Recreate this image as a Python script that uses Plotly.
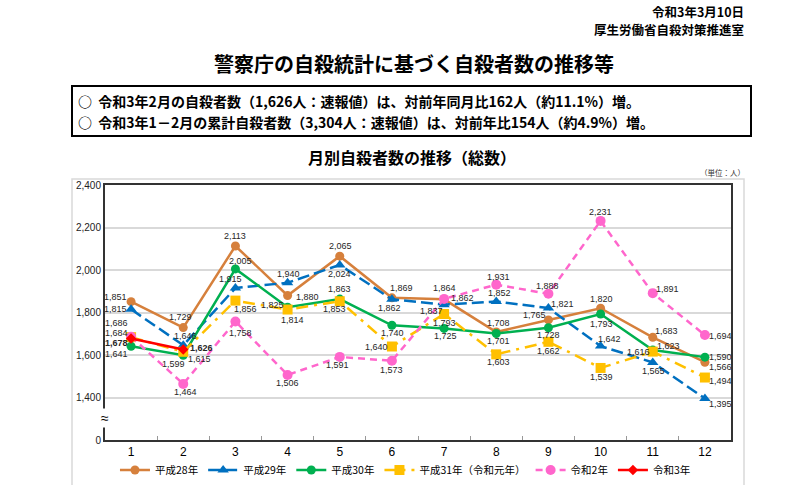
import plotly.graph_objects as go

months = list(range(1, 13))
month_labels = [str(m) for m in months]

series_names = ["平成28年", "平成29年", "平成30年", "平成31年（令和元年）", "令和2年", "令和3年"]
h28 = [1851, 1729, 2113, 1880, 2065, 1869, 1862, 1708, 1765, 1820, 1683, 1566]
h29 = [1815, 1646, 1915, 1940, 2024, 1862, 1837, 1852, 1821, 1642, 1565, 1395]
h30 = [1641, 1599, 2005, 1825, 1863, 1740, 1725, 1701, 1728, 1793, 1623, 1590]
h31 = [1684, 1615, 1856, 1814, 1853, 1640, 1793, 1603, 1662, 1539, 1616, 1494]
r2 = [1686, 1464, 1758, 1506, 1591, 1573, 1864, 1931, 1888, 2231, 1891, 1694]
r3 = [1678, 1626]

y_tick_vals = [1200, 1400, 1600, 1800, 2000, 2200, 2400]
y_tick_text = ["0", "1,400", "1,600", "1,800", "2,000", "2,200", "2,400"]

# label offsets in pixels (dx right, dy down) -- style only
off_h28 = [(-16, -5), (-3, -11), (0, -10), (20, 1), (1, -10), (10, -10),
           (18, -1), (2, -9), (-14, -5), (1, -9), (14, -6), (16, 5)]
off_h29 = [(-16, 0), (2, -9), (-5, -9), (1, -9), (0, 9), (-2, 9),
           (-13, 6), (3, -8), (14, -4), (9, -7), (1, 9), (16, 5)]
off_h30 = [(-15, 8), (-10, 9), (5, -8), (-15, -2), (0, -10), (1, 8),
           (1, 8), (2, 7), (0, 7), (1, 10), (16, -4), (16, 0)]
off_h31 = [(-15, -4), (16, 7), (10, 8), (5, 10), (-5, 8), (-15, 0),
           (0, 9), (2, 8), (0, 9), (1, 9), (-14, 0), (16, 3)]
off_r2 = [(-15, -14), (2, 8), (5, 12), (0, 8), (-2, 8), (0, 9),
          (0, -11), (2, -8), (-1, -8), (0, -9), (15, -4), (16, 1)]
off_r3 = [(-15, 5), (18, -1)]

colors = ["#D6803C", "#0070C0", "#00B050", "#FFC000", "#FF66CC", "#FF0000"]

W, H = 800, 485
L, R, T, B = 105, 69, 185, 45
PW, PH = W - L - R, H - T - B


def px(x):
    return (x - L) / PW


def py(y):
    return (H - B - y) / PH


NUM_FONT = "Liberation Sans, Arial, sans-serif"
JP_FONT = "Noto Sans CJK JP, sans-serif"

fig = go.Figure()
label_annotations = []


def fmt(v):
    return f"{v:,}"


def add(name, vals, color, dash, symbol, offs, size=9, bold=False):
    fig.add_trace(go.Scatter(
        x=months[:len(vals)], y=vals, name=name, mode="lines+markers",
        line=dict(color=color, width=2.5, dash=dash),
        marker=dict(color=color, size=size, symbol=symbol),
        cliponaxis=False, hoverinfo="skip",
    ))
    for m, v, (dx, dy) in zip(months, vals, offs):
        t = fmt(v)
        if bold:
            t = "<b>%s</b>" % t
        label_annotations.append(dict(
            x=m, y=v, xref="x", yref="y", text=t, showarrow=False,
            xanchor="center", yanchor="middle", xshift=dx, yshift=-dy,
            font=dict(family=NUM_FONT, size=9, color="#262626"),
        ))


add(series_names[0], h28, colors[0], "solid", "circle", off_h28)
add(series_names[1], h29, colors[1], "12px,5px", "triangle-up", off_h29, size=10)
add(series_names[2], h30, colors[2], "solid", "circle", off_h30)
add(series_names[3], h31, colors[3], "12px,6px,3px,6px", "square", off_h31, size=10)
add(series_names[4], r2, colors[4], "7px,5px", "circle", off_r2, size=10)
add(series_names[5], r3, colors[5], "solid", "diamond", off_r3, size=8, bold=True)

shapes = [
    dict(type="rect", xref="paper", yref="paper", x0=px(72), x1=px(744), y0=py(495), y1=py(179),
         line=dict(color="#D9D9D9", width=1.5), fillcolor="rgba(0,0,0,0)", layer="below"),
    dict(type="rect", xref="paper", yref="paper", x0=px(72), x1=px(751), y0=py(136), y1=py(86),
         line=dict(color="#000000", width=2), fillcolor="rgba(0,0,0,0)"),
]

annotations = [
    dict(text="<b>令和3年3月10日</b>", x=px(746), y=py(11), xanchor="right", yanchor="middle",
         font=dict(family=JP_FONT, size=12.5, color="#000")),
    dict(text="<b>厚生労働省自殺対策推進室</b>", x=px(746), y=py(29), xanchor="right", yanchor="middle",
         font=dict(family=JP_FONT, size=12.5, color="#000")),
    dict(text="<b>警察庁の自殺統計に基づく自殺者数の推移等</b>", x=px(414), y=py(64), xanchor="center",
         yanchor="middle", font=dict(family=JP_FONT, size=20, color="#000")),
    dict(text="<b>○  令和3年2月の自殺者数（1,626人：速報値）は、対前年同月比162人（約11.1%）増。</b>",
         x=px(76), y=py(101), xanchor="left", yanchor="middle",
         font=dict(family=JP_FONT, size=14, color="#000")),
    dict(text="<b>○  令和3年1－2月の累計自殺者数（3,304人：速報値）は、対前年比154人（約4.9%）増。</b>",
         x=px(76), y=py(122), xanchor="left", yanchor="middle",
         font=dict(family=JP_FONT, size=14, color="#000")),
    dict(text="<b>月別自殺者数の推移（総数）</b>", x=px(412), y=py(157), xanchor="center",
         yanchor="middle", font=dict(family=JP_FONT, size=16, color="#000")),
    dict(text="（単位：人）", x=px(747), y=py(172), xanchor="right", yanchor="middle",
         font=dict(family=JP_FONT, size=7.5, color="#333")),
    dict(text="≈", x=0, xref="paper", y=1302, yref="y", xanchor="center", yanchor="middle",
         bgcolor="#FFFFFF", font=dict(family=NUM_FONT, size=14, color="#000")),
]
for a in annotations:
    a.setdefault("xref", "paper")
    a.setdefault("yref", "paper")
    a["showarrow"] = False

fig.update_layout(
    width=W, height=H,
    margin=dict(l=L, r=R, t=T, b=B, autoexpand=False),
    paper_bgcolor="#FFFFFF", plot_bgcolor="#FFFFFF",
    shapes=shapes, annotations=annotations + label_annotations,
    showlegend=True, hovermode=False,
    legend=dict(orientation="h", x=0.48, xanchor="center", y=py(470), yanchor="middle",
                font=dict(family=JP_FONT, size=10.5, color="#000"), itemwidth=30,
                bgcolor="rgba(0,0,0,0)", traceorder="normal"),
    xaxis=dict(range=[0.5, 12.5], tickmode="array", tickvals=months, ticktext=month_labels,
               ticks="", showgrid=False, zeroline=False, showline=True, linecolor="#333333",
               linewidth=2, mirror=True,
               tickfont=dict(family=NUM_FONT, size=12, color="#000"),
               minor=dict(tickmode="array", tickvals=[m + 0.5 for m in months[:-1]],
                          ticks="inside", ticklen=4, tickcolor="#999999", showgrid=False)),
    yaxis=dict(range=[1200, 2400], tickmode="array", tickvals=y_tick_vals, ticktext=y_tick_text,
               showgrid=True, gridcolor="#D9D9D9", gridwidth=1.5, zeroline=False,
               showline=True, linecolor="#333333", linewidth=2, mirror=True, ticks="",
               tickfont=dict(family=NUM_FONT, size=10, color="#222")),
)

fig.write_html("out.html", config={"displayModeBar": False},
               post_script="document.body.style.margin='0px';")
